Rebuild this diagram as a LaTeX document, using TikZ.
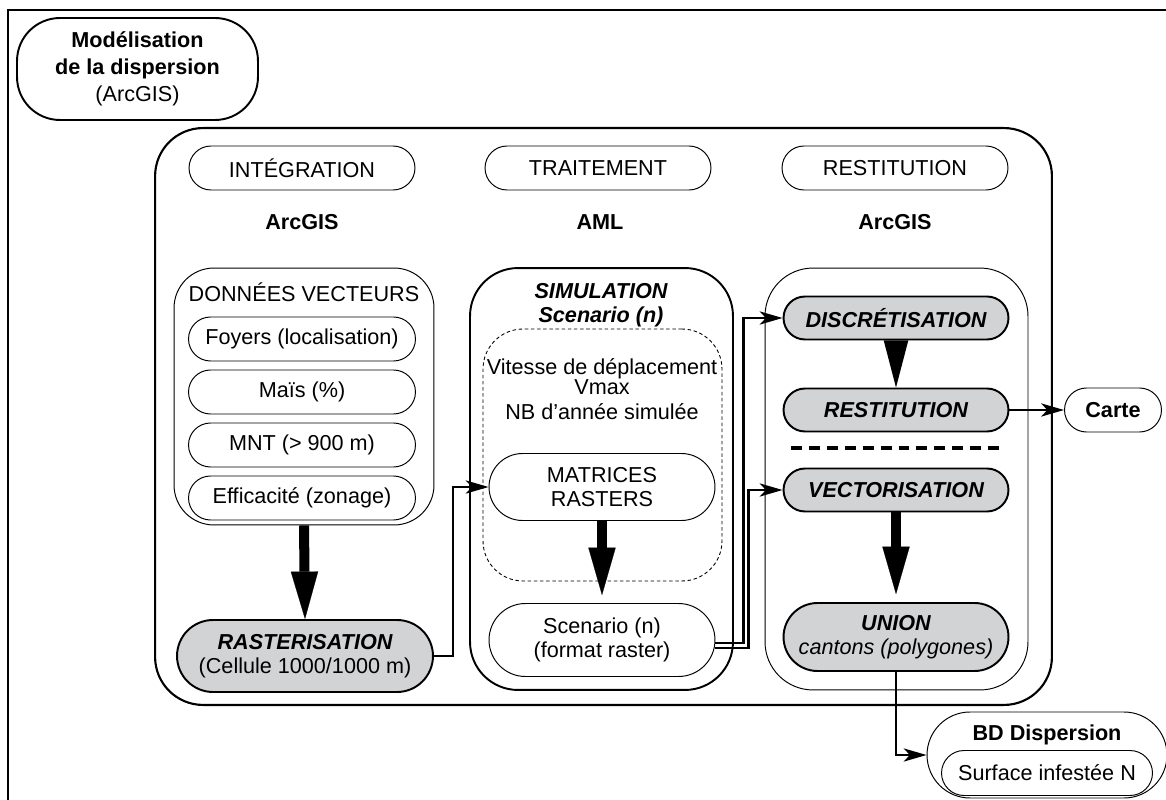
\documentclass[tikz,border=0pt]{standalone}
\usepackage{fontspec}
\setmainfont{Liberation Sans}
\usepackage{xcolor}
\usepackage{tikz}
\usetikzlibrary{arrows.meta}
\usetikzlibrary{positioning}
\definecolor{boxgray}{RGB}{210,211,213}

\begin{document}
\begin{tikzpicture}[x=0.02cm,y=-0.02cm,
  font=\fontsize{12.3}{14}\selectfont,
  pill/.style={draw,line width=0.55pt,rounded corners=0.44cm,minimum width=4.52cm,
    minimum height=0.88cm,align=center,inner sep=1pt},
  graypill/.style={draw,fill=boxgray,line width=1.1pt,rounded corners=0.43cm,minimum width=4.5cm,
    minimum height=0.86cm,align=center,inner sep=1pt,font=\fontsize{12.3}{14}\selectfont\bfseries\itshape},
  groupbox/.style={draw,line width=0.55pt,rounded corners=0.8cm},
  bold/.style={font=\fontsize{12.3}{14}\selectfont\bfseries},
  conn/.style={line width=1.2pt,arrows={-Stealth[length=13pt,width=7.5pt,inset=3.5pt]}},
  bigarrow/.style={line width=5.7pt,arrows={-Triangle[length=27pt,width=15.5pt,line width=0.1pt]}}]
\useasboundingbox (0,0) rectangle (1166,800);
\draw[line width=1.3pt] (8,800) -- (8,10) -- (1166,10);
\node[draw,line width=1.1pt,rounded corners=0.86cm,minimum width=4.82cm,minimum height=2.04cm,
  align=center,font=\fontsize{12.3}{15.5}\selectfont] (titre) at (137.5,69)
  {\textbf{Modélisation}\\\textbf{de la dispersion}\\(ArcGIS)};
\node[draw,line width=1.2pt,rounded corners=0.96cm,minimum width=17.94cm,minimum height=11.54cm] (cadre) at (603.5,416.5) {};
\node[pill] (integ) at (302,168) {INTÉGRATION};
\node[pill] (trait) at (598,168) {TRAITEMENT};
\node[pill] (resti) at (895,168) {RESTITUTION};
\node[bold] (logiciel1) at (302,222) {ArcGIS};
\node[bold] (logiciel2) at (600,222) {AML};
\node[bold] (logiciel3) at (895,222) {ArcGIS};
\node[groupbox,minimum width=5.2cm,minimum height=5.14cm] (donnees) at (304,396.5) {};
\node (donneestitre) at (304,292) {DONNÉES VECTEURS};
\node[pill,minimum width=4.54cm] (foyers) at (302,339) {Foyers (localisation)};
\node[pill,minimum width=4.54cm] (mais) at (302,392) {Maïs (\%)};
\node[pill,minimum width=4.54cm] (mnt) at (302,445) {MNT (> 900 m)};
\node[pill,minimum width=4.54cm] (efficacite) at (302,498) {Efficacité (zonage)};
\node[graypill,minimum width=5.12cm,minimum height=1.44cm,rounded corners=0.72cm] (raster) at (305,656)
  {RASTERISATION\\\normalfont (Cellule 1000/1000 m)};
\node[draw,line width=1.1pt,rounded corners=0.96cm,minimum width=5.26cm,minimum height=8.44cm] (simul) at (601.5,479) {};
\node[align=center,font=\fontsize{12.3}{13.5}\selectfont\bfseries\itshape] (simultitre) at (601,305) {SIMULATION\\Scenario (n)};
\node[draw,line width=0.5pt,dash pattern=on 2pt off 1.5pt,rounded corners=0.8cm,minimum width=4.78cm,
  minimum height=5.04cm] (params) at (602.5,455) {};
\node[align=center,font=\fontsize{12.3}{11.5}\selectfont] (vitesse) at (602,377) {Vitesse de déplacement\\Vmax};
\node (nbannee) at (602,412) {NB d’année simulée};
\node[pill,minimum height=1.34cm,rounded corners=0.67cm] (matrices) at (602,487) {MATRICES\\RASTERS};
\node[pill,minimum height=1.46cm,rounded corners=0.73cm] (scen) at (602,640) {Scenario (n)\\(format raster)};
\node[groupbox,rounded corners=0.96cm,minimum width=5.26cm,minimum height=8.44cm] (colonne) at (896.5,479) {};
\node[graypill] (discr) at (896,318) {DISCRÉTISATION};
\node[graypill] (restit) at (896,410) {RESTITUTION};
\draw[line width=2pt,dash pattern=on 6.2pt off 4pt] (791,448) -- (1000,448);
\node[graypill] (vector) at (896,490) {VECTORISATION};
\node[graypill,minimum height=1.36cm,rounded corners=0.68cm] (union) at (896,637)
  {UNION\\\normalfont\itshape cantons (polygones)};
\node[pill,minimum width=1.94cm,font=\fontsize{12.3}{14}\selectfont\bfseries] (carte) at (1113,410) {Carte};
\node[groupbox,rounded corners=0.86cm,minimum width=4.8cm,minimum height=1.72cm] (bd) at (1047,755) {};
\node[bold] (bdtitre) at (1047,735) {BD Dispersion};
\node[pill,minimum width=4.22cm,minimum height=0.9cm,rounded corners=0.45cm] (surface) at (1047,773) {Surface infestée N};
\draw[bigarrow] (donnees.south) -- (raster.north);
\draw[conn] (raster.east) -- ++(19,0) |- (matrices.west);
\draw[bigarrow,shorten >=4.5pt] (matrices.south) -- (scen.north);
\draw[conn] ([yshift=-1.5pt]scen.east) -- ++(28,0) |- (discr.west);
\draw[conn] ([yshift=-4.5pt]scen.east) -- ++(33,0) |- (vector.west);
\fill ([xshift=-7pt]discr.south) -- ([xshift=7pt]discr.south) -- (restit.north) -- cycle;
\draw[conn] (restit.east) -- (carte.west);
\draw[bigarrow,shorten >=4.5pt] (vector.south) -- (union.north);
\draw[conn] (union.south) |- (bd.west);
\end{tikzpicture}
\end{document}
